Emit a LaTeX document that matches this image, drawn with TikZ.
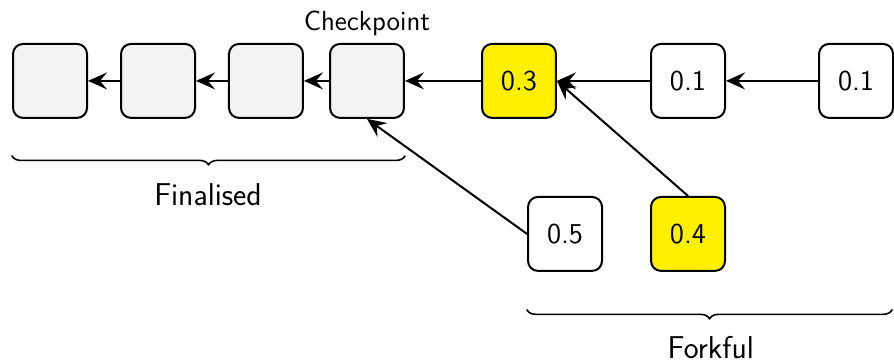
\documentclass[tikz,border=0pt]{standalone}
\usetikzlibrary{positioning,decorations.pathreplacing,arrows.meta}
\definecolor{fingrey}{RGB}{242,243,245}
\definecolor{voteyellow}{RGB}{255,240,0}
\begin{document}
\begin{tikzpicture}[line join=round,line cap=round,>={Stealth[length=9.5pt,width=8.5pt,inset=3.5pt]},font=\sffamily\Large,
blk/.style={draw,line width=1pt,rounded corners=5pt,minimum size=1.3cm,inner sep=0pt},
fin/.style={blk,fill=fingrey},
hot/.style={blk,fill=voteyellow},
brc/.style={decorate,decoration={brace,mirror,amplitude=4.5pt},line width=0.8pt},
bracetext/.style={font=\sffamily\fontsize{15.8}{18}\selectfont}]
\useasboundingbox (0,0) rectangle (15.71,6.36);
% finalised part of the chain
\node[fin] (f1) at (0.879,4.938) {};
\node[fin] (f2) at (2.777,4.938) {};
\node[fin] (f3) at (4.674,4.938) {};
\node[fin] (cp) at (6.449,4.938) {};
\node[font=\sffamily\fontsize{13.8}{16}\selectfont,above=0pt of cp] (cplabel) {Checkpoint};
% blocks after the checkpoint
\node[hot] (b3) at (9.120,4.938) {0.3};
\node[blk] (b1) at (12.090,4.938) {0.1};
\node[blk] (b1r) at (15.043,4.938) {0.1};
\node[blk] (b5) at (9.929,2.249) {0.5};
\node[hot] (b4) at (12.090,2.249) {0.4};
\draw[->,line width=1pt] (f2)--(f1);
\draw[->,line width=1pt] (f3)--(f2);
\draw[->,line width=1pt] (cp)--(f3);
\draw[->,line width=1pt] (b3)--(cp);
\draw[->,line width=1pt] (b1)--(b3);
\draw[->,line width=1pt] (b1r)--(b1);
\draw[->,line width=1pt] (b5.west)--(cp.south);
\draw[->,line width=1pt] (b4.north)--(b3.east);
% braces
\coordinate (finL) at (0.211,3.62);
\coordinate (finR) at (7.117,3.62);
\coordinate (forkL) at (9.261,0.915);
\coordinate (forkR) at (15.675,0.915);
\draw[brc] (finL)--(finR);
\draw[brc] (forkL)--(forkR);
\node[bracetext] (finlabel) at (3.655,2.935) {Finalised};
\node[bracetext] (forklabel) at (12.49,0.26) {Forkful};
\end{tikzpicture}
\end{document}
